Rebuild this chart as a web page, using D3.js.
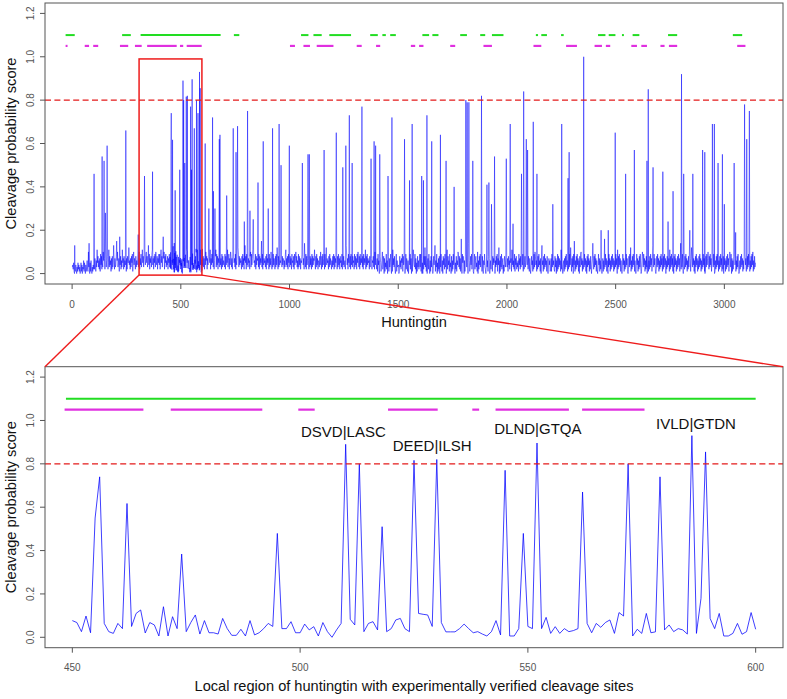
<!DOCTYPE html>
<html>
<head>
<meta charset="utf-8">
<script src="https://cdn.jsdelivr.net/npm/d3@7"></script>
<style>
body { margin: 0; background: #fff; }
text { font-family: "Liberation Sans", Arial, sans-serif; }
</style>
</head>
<body>
<div id="chart"></div>
<script>
const width = 787;
const height = 699;

// whole protein: background scores, one char per 2 residues (base36 / 100), one string per 100 residues
const topBaseline = [
    '3425102142031524130251403261520413621a340516203142',
    '5274163b583627194825' + '3a617249360825b3846172835d6273',
    '4826a3571948263b57283649172855c4627385916a47528364',
    '5938a274936b58392748a5836d49275839b4728593a6482759',
    '4927b583947a2859364827593847265938472658394827563a',
    '38472958374829375846293847562938475629384758293746',
    '5837294a682749385b274958372648b3948275e38472938465',
    '3928475b369274a8372948573926482c938475628394726d58',
    '2948375628a3947b2856392847653928475f39284756382947',
    '5829374a6283947528394c7283946529384752639b47382956',
    '38472956382947a5836293847265938472e639284756293847',
    '2938476b5283947265384a628394752938c475628394752638',
    '4928375c6283947285639274835629d8472956382947385629',
    '3847295a6382947563829475b283947562839472658392a475',
    '2719460385136a2480715392604817359206' + '1b47382059163',
    '40183627591846c039275160384927' + '0615b843927051836249',
    '39170506284c38160572940618375028' + '47d163905172806394',
    '160847293507b28461935081629473' + '0528164a938271640958',
    '40618293750e161384925710492683' + '51a062849375182064937',
    '20493618570362a9184752063849174c06183925' + '7041863925',
    '37184629571b483629174825361947283a6491725836194728',
    '41720384617293a846152839461708d4618293746182037461',
    '27193846218370619283' + '7461b293046172839461728394c617',
    '38094716283947160839a4716283947160839471' + '6283047e62',
    '839471620394716283047162g3947162039471628394716283',
    '9470b283947162039471628394710283' + '94c162839471620394',
    '71628394016a83947162830471628394716d83947102839471',
    '62839471628394706283' + '9471b2839471608394716' + '28394716e',
    '28394016283947162839' + '4716c839471608394716' + '2839471628',
    '3947102839' + '47a6283947162839401628394b16283947162809',
    '471628394716a83907162839471628394016283947162839' + '47',
    '162839471628394a162835'
];

// spikes: [residue, score]
const topPeaks = [
    [12, 0.13], [78, 0.14], [101, 0.46], [138, 0.54], [147, 0.52], [153, 0.28], [161, 0.59],
    [205, 0.15], [219, 0.17], [247, 0.66], [304, 0.18], [333, 0.45], [370, 0.47], [419, 0.17],
    [612, 0.60], [629, 0.30], [646, 0.72], [650, 0.38], [657, 0.30], [677, 0.62], [680, 0.64],
    [711, 0.36], [741, 0.67], [754, 0.56], [761, 0.68], [792, 0.24], [807, 0.75], [818, 0.29],
    [833, 0.25], [855, 0.42], [879, 0.61], [902, 0.30], [922, 0.67], [952, 0.69], [961, 0.50],
    [999, 0.59], [1059, 0.51], [1085, 0.55], [1091, 0.55], [1159, 0.57], [1215, 0.65],
    [1245, 0.49], [1259, 0.59], [1275, 0.73], [1288, 0.51], [1333, 0.77], [1375, 0.53],
    [1389, 0.61], [1396, 0.59], [1415, 0.55], [1453, 0.45], [1471, 0.72], [1529, 0.62],
    [1552, 0.43], [1564, 0.69], [1608, 0.45], [1616, 0.43], [1632, 0.73], [1654, 0.61],
    [1694, 0.64], [1720, 0.52], [1757, 0.40], [1790, 0.16], [1811, 0.80], [1817, 0.79],
    [1825, 0.79], [1843, 0.52], [1883, 0.82], [1908, 0.41], [1917, 0.42], [1929, 0.32],
    [1943, 0.54], [1997, 0.53], [2015, 0.69], [2028, 0.23], [2067, 0.46], [2077, 0.84],
    [2089, 0.62], [2095, 0.57], [2121, 0.70], [2138, 0.46], [2211, 0.32], [2252, 0.69],
    [2281, 0.44], [2286, 0.56], [2310, 0.15], [2353, 1.00], [2433, 0.20], [2466, 0.20],
    [2498, 0.65], [2546, 0.46], [2586, 0.57], [2644, 0.52], [2650, 0.85], [2672, 0.49],
    [2717, 0.47], [2741, 0.24], [2764, 0.38], [2803, 0.92], [2813, 0.46], [2841, 0.20],
    [2855, 0.46], [2900, 0.57], [2910, 0.56], [2945, 0.69], [2954, 0.69], [2971, 0.51],
    [2991, 0.55], [3000, 0.32], [3045, 0.51], [3052, 0.19], [3093, 0.78], [3103, 0.62],
    [3115, 0.75]
];
const proteinLength = 3144;

// local region 450..600
const detailStart = 450;
const detailScore = [
    0.077, 0.068, 0.026, 0.098, 0.021, 0.55, 0.74, 0.064, 0.026, 0.018,
    0.064, 0.04, 0.617, 0.05, 0.11, 0.126, 0.02, 0.068, 0.057, 0.006,
    0.141, 0.006, 0.095, 0.04, 0.384, 0.026, 0.068, 0.103, 0.015, 0.077,
    0.021, 0.021, 0.015, 0.087, 0.04, 0.009, 0.009, 0.037, 0.006, 0.077,
    0.011, 0.021, 0.04, 0.064, 0.05, 0.479, 0.04, 0.04, 0.072, 0.021,
    0.021, 0.061, 0.034, 0.049, 0.006, 0.068, 0.026, 0.0, 0.034, 0.064,
    0.89, 0.083, 0.057, 0.80, 0.026, 0.064, 0.072, 0.034, 0.51, 0.026,
    0.04, 0.08, 0.087, 0.04, 0.026, 0.816, 0.11, 0.106, 0.103, 0.05,
    0.82, 0.068, 0.025, 0.025, 0.025, 0.04, 0.061, 0.04, 0.021, 0.026,
    0.015, 0.006, 0.026, 0.077, 0.011, 0.77, 0.006, 0.006, 0.04, 0.479,
    0.05, 0.04, 0.896, 0.04, 0.092, 0.018, 0.049, 0.018, 0.04, 0.026,
    0.031, 0.04, 0.67, 0.064, 0.021, 0.064, 0.046, 0.068, 0.08, 0.018,
    0.114, 0.098, 0.80, 0.006, 0.037, 0.018, 0.11, 0.021, 0.025, 0.74,
    0.034, 0.057, 0.026, 0.04, 0.034, 0.015, 0.93, 0.018, 0.18, 0.855,
    0.087, 0.04, 0.11, 0.006, 0.006, 0.018, 0.064, 0.014, 0.026, 0.114,
    0.037
];

// region bars [from, to]
const topGreen = [[-30, 12], [230, 270], [315, 683], [744, 769], [1053, 1087], [1110, 1148],
    [1183, 1283], [1371, 1406], [1427, 1443], [1463, 1489], [1611, 1642], [1657, 1685],
    [1785, 1816], [1877, 1900], [1931, 1984], [2133, 2143], [2158, 2184], [2249, 2261],
    [2419, 2453], [2468, 2499], [2529, 2538], [2578, 2609], [2741, 2783], [3039, 3082]];
const topMagenta = [[-30, -21], [58, 78], [97, 120], [220, 258], [289, 320], [345, 481],
    [496, 511], [527, 596], [1002, 1025], [1064, 1094], [1125, 1202], [1309, 1332],
    [1398, 1417], [1558, 1578], [1596, 1616], [1739, 1762], [1892, 1931], [2122, 2158],
    [2272, 2322], [2403, 2437], [2455, 2475], [2572, 2598], [2618, 2644], [2706, 2725],
    [2745, 2783], [3059, 3097]];
const detailGreen = [[448.6, 600]];
const detailMagenta = [[448.3, 465.6], [471.6, 491.7], [499.6, 503.2], [519.3, 530.2],
    [537.8, 539.3], [542.9, 559], [561.9, 575.6]];

const siteLabels = ['DSVD|LASC', 'DEED|ILSH', 'DLND|GTQA', 'IVLD|GTDN'];
const sitePos = [509.5, 529, 552.2, 586.9];
const siteY = [0.947, 0.885, 0.962, 0.985];

const topXTicks = [0, 500, 1000, 1500, 2000, 2500, 3000];
const detailXTicks = [450, 500, 550, 600];
const yTicks = [0, 0.2, 0.4, 0.6, 0.8, 1.0, 1.2];
const threshold = 0.8;
const zoomResidues = [308, 597];
const zoomScores = [-0.007, 0.99];


// assemble the overview series
const pts = new Map();
topBaseline.forEach((chunk, k) => {
    for (let j = 0; j < chunk.length; j++) {
        const pos = k * 100 + 1 + 2 * j;
        if (pos <= proteinLength) pts.set(pos, parseInt(chunk[j], 36) / 100);
    }
});
for (const [p] of Array.from(pts)) {
    if (p >= detailStart && p <= detailStart + detailScore.length - 1) pts.delete(p);
}
detailScore.forEach((v, i) => pts.set(detailStart + i, v));
topPeaks.forEach(([p, v]) => pts.set(p, v));
const topSeries = Array.from(pts).sort((a, b) => a[0] - b[0]);
const detailSeries = detailScore.map((v, i) => [detailStart + i, v]);


buildChart();


function buildChart() {

    const svg = d3.select('#chart')
        .append('svg')
        .attr('width', width)
        .attr('height', height);

    const left = 45, right = 783;
    const topPanel = { top: 3, bottom: 284 };
    const lowPanel = { top: 366.7, bottom: 647.7 };

    const pad = 0.04;
    const span = proteinLength - 1;
    const xTop = d3.scaleLinear()
        .domain([1 - pad * span, proteinLength + pad * span])
        .range([left, right]);
    const xLow = d3.scaleLinear()
        .domain([444, 606])
        .range([left, right]);
    const yTop = d3.scaleLinear()
        .domain([-0.048, 1.248])
        .range([topPanel.bottom, topPanel.top]);
    const yLow = d3.scaleLinear()
        .domain([-0.048, 1.248])
        .range([lowPanel.bottom, lowPanel.top]);

    drawPanel(svg, xTop, yTop, topSeries, topXTicks, topGreen, topMagenta, 'Huntingtin', 0.5);
    drawPanel(svg, xLow, yLow, detailSeries, detailXTicks, detailGreen, detailMagenta,
        'Local region of huntingtin with experimentally verified cleavage sites', 0.75);

    // cleavage site labels
    svg.append('g')
        .selectAll('text')
        .data(siteLabels)
        .enter()
        .append('text')
        .attr('x', (d, i) => xLow(sitePos[i]))
        .attr('y', (d, i) => yLow(siteY[i]))
        .attr('dy', '0.36em')
        .attr('text-anchor', 'middle')
        .attr('font-size', 15)
        .attr('fill', '#111')
        .text(d => d);

    // zoom box + connectors
    const bx0 = xTop(zoomResidues[0]), bx1 = xTop(zoomResidues[1]);
    const by0 = yTop(zoomScores[1]), by1 = yTop(zoomScores[0]);
    svg.append('rect')
        .attr('x', bx0)
        .attr('y', by0)
        .attr('width', bx1 - bx0)
        .attr('height', by1 - by0)
        .attr('fill', 'none')
        .attr('stroke', '#ee1c1c')
        .attr('stroke-width', 1.5);

    svg.append('line')
        .attr('x1', bx0).attr('y1', by1)
        .attr('x2', left).attr('y2', lowPanel.top)
        .attr('stroke', '#ee1c1c')
        .attr('stroke-width', 1.4);
    svg.append('line')
        .attr('x1', bx1).attr('y1', by1)
        .attr('x2', right).attr('y2', lowPanel.top)
        .attr('stroke', '#ee1c1c')
        .attr('stroke-width', 1.4);
}


function drawPanel(svg, x, y, series, xTicks, green, magenta, title, lineWidth) {

    const [x0, x1] = x.range();
    const [yb, yt] = y.range();
    const g = svg.append('g');

    const line = d3.line()
        .x(d => x(d[0]))
        .y(d => y(d[1]));

    g.append('path')
        .datum(series)
        .attr('d', line)
        .attr('fill', 'none')
        .attr('stroke', '#0000ff')
        .attr('stroke-width', lineWidth)
        .attr('stroke-linejoin', 'miter');

    g.append('line')
        .attr('x1', x0).attr('x2', x1)
        .attr('y1', y(threshold)).attr('y2', y(threshold))
        .attr('stroke', '#e41a1a')
        .attr('stroke-width', 1.4)
        .attr('stroke-dasharray', '6,3.4');

    g.selectAll('.green')
        .data(green)
        .enter()
        .append('line')
        .attr('x1', d => x(d[0]))
        .attr('x2', d => x(d[1]))
        .attr('y1', y(1.1))
        .attr('y2', y(1.1))
        .attr('stroke', '#22dd22')
        .attr('stroke-width', 2);

    g.selectAll('.magenta')
        .data(magenta)
        .enter()
        .append('line')
        .attr('x1', d => x(d[0]))
        .attr('x2', d => x(d[1]))
        .attr('y1', y(1.05))
        .attr('y2', y(1.05))
        .attr('stroke', '#e030e0')
        .attr('stroke-width', 2.2);

    // box
    g.append('rect')
        .attr('x', x0)
        .attr('y', yt)
        .attr('width', x1 - x0)
        .attr('height', yb - yt)
        .attr('fill', 'none')
        .attr('stroke', '#555')
        .attr('stroke-width', 1);

    // x axis
    const xAxis = g.append('g');
    xAxis.selectAll('line')
        .data(xTicks)
        .enter()
        .append('line')
        .attr('x1', d => x(d)).attr('x2', d => x(d))
        .attr('y1', yb).attr('y2', yb + 5)
        .attr('stroke', '#555');
    xAxis.selectAll('text')
        .data(xTicks)
        .enter()
        .append('text')
        .attr('x', d => x(d))
        .attr('y', yb + 20)
        .attr('dy', '0.35em')
        .attr('text-anchor', 'middle')
        .attr('font-size', 10)
        .attr('fill', '#555')
        .text(d => d);

    // y axis
    const yAxis = g.append('g');
    yAxis.selectAll('line')
        .data(yTicks)
        .enter()
        .append('line')
        .attr('x1', x0 - 5).attr('x2', x0)
        .attr('y1', d => y(d)).attr('y2', d => y(d))
        .attr('stroke', '#555');
    yAxis.selectAll('text')
        .data(yTicks)
        .enter()
        .append('text')
        .attr('transform', d => `translate(30, ${y(d)}) rotate(-90)`)
        .attr('dy', '0.35em')
        .attr('text-anchor', 'middle')
        .attr('font-size', 10)
        .attr('fill', '#555')
        .text(d => d3.format('.1f')(d));

    g.append('text')
        .attr('x', (x0 + x1) / 2)
        .attr('y', yb + 38)
        .attr('dy', '0.35em')
        .attr('text-anchor', 'middle')
        .attr('font-size', 14.6)
        .attr('fill', '#111')
        .text(title);

    g.append('text')
        .attr('transform', `translate(11, ${(yb + yt) / 2}) rotate(-90)`)
        .attr('dy', '0.35em')
        .attr('text-anchor', 'middle')
        .attr('font-size', 14.6)
        .attr('fill', '#111')
        .text('Cleavage probability score');
}
</script>
</body>
</html>
